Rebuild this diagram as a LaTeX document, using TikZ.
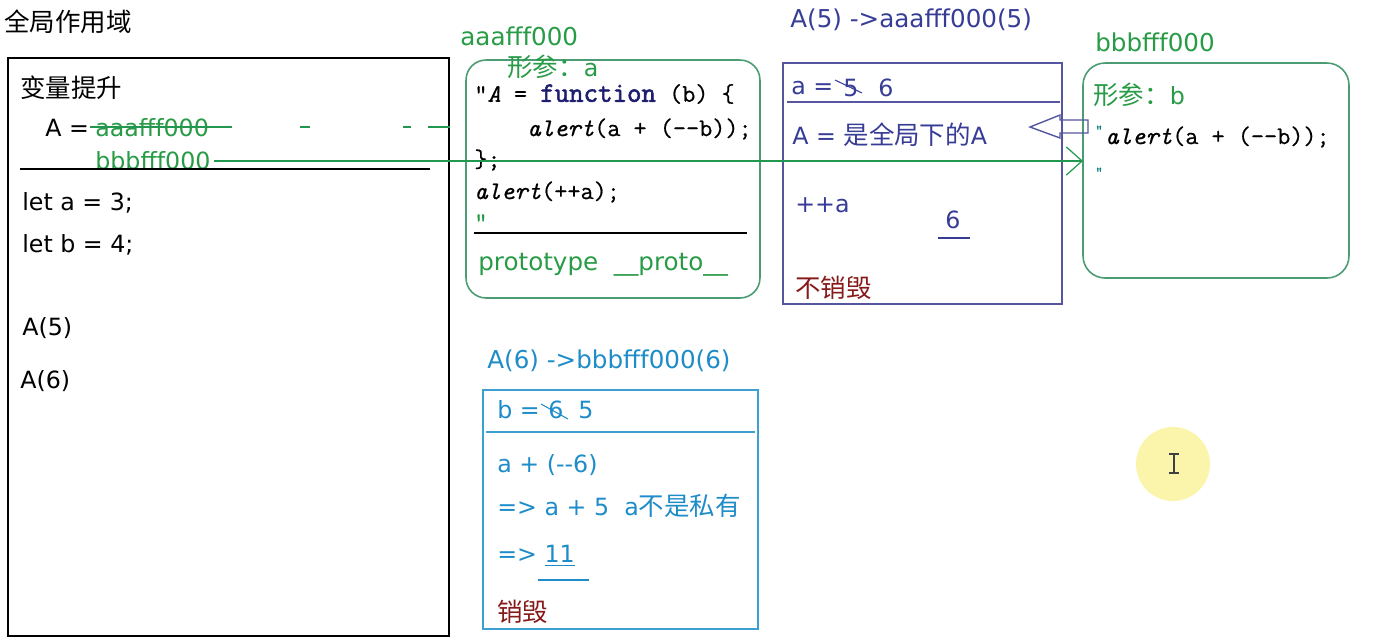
\documentclass[tikz,border=0pt]{standalone}
\usepackage{fontspec}
\setmainfont{DejaVu Sans}
\newfontfamily\cjk{Noto Sans CJK SC}
\newfontfamily\codefont{Latin Modern Mono}[FakeBold=0.6]
\newfontfamily\codebold{Latin Modern Mono}[FakeBold=2]
\usetikzlibrary{positioning,calc,arrows.meta}

\definecolor{jsgreen}{RGB}{40,155,70}
\definecolor{boxgreen}{RGB}{75,155,115}
\definecolor{navyblue}{RGB}{55,60,150}
\definecolor{boxnavy}{RGB}{85,85,160}
\definecolor{skyblue}{RGB}{30,140,200}
\definecolor{boxsky}{RGB}{60,160,210}
\definecolor{darkred}{RGB}{135,25,25}
\definecolor{keyword}{RGB}{30,30,110}
\definecolor{hilite}{RGB}{250,245,170}

\newcommand{\txtsize}[1]{\fontsize{#1}{#1}\selectfont}
\newcommand{\zh}[1]{{\cjk\txtsize{14.5}#1}}

\begin{document}
\begin{tikzpicture}[x=0.02cm, y=-0.02cm,
    lbl/.style={anchor=west, inner sep=0pt, font=\txtsize{13.5}},
    title/.style={lbl, font=\txtsize{14}},
    code/.style={anchor=west, inner sep=0pt, font=\codefont\txtsize{14.5}},
    frame/.style={draw, inner sep=0pt, outer sep=0pt, line width=0.9pt},
    greenline/.style={draw=jsgreen!85!teal, line width=0.7pt},
    crossout/.style={line width=0.6pt}]

    \useasboundingbox (0,0) rectangle (1386,640);

    % global scope
    \node[lbl] (gtitle) at (4,22) {\zh{全局作用域}};
    \node[frame, minimum width=8.82cm, minimum height=11.56cm] (gbox) at (228.5,347) {};
    \node[lbl] (hoist) at (20,88) {\zh{变量提升}};
    \node[lbl] (aeq) at (45,128) {A =};
    \node[lbl, text=jsgreen] (aaaref) at (95,128) {aaafff000};
    \node[lbl, text=jsgreen] (bbbref) at (95,161) {bbbfff000};
    \draw[black, line width=0.9pt] (20,169) -- (430,169);
    \node[lbl] (leta) at (22,203) {let a = 3;};
    \node[lbl] (letb) at (22,245) {let b = 4;};
    \node[lbl] (callfive) at (22,328) {A(5)};
    \node[lbl] (callsix) at (20,381) {A(6)};

    % old pointer A -> aaafff000 (struck out)
    \draw[greenline] ($(aaaref.west)+(-5,-1)$) -- (232,127);
    \foreach \xa/\xb in {300/310, 403/411, 428/450}
        \draw[greenline] (\xa,127) -- (\xb,127);

    % heap aaafff000
    \node[title, text=jsgreen] (aaatitle) at (460,36) {aaafff000};
    \node[frame, draw=boxgreen, rounded corners=0.4cm, minimum width=5.88cm, minimum height=4.76cm] (aaabox) at (613,179) {};
    \node[lbl, text=jsgreen] (parma) at (507,67) {\zh{形参：}a};
    \node[code] (codeA) at (474,94) {"\textit{A} = {\color{keyword}\codebold\txtsize{16}function} (b) \{};
    \node[code] (codeB) at (527,129) {\textit{alert}(a + (-{}-b));};
    \node[code] (codeC) at (474,160) {\};};
    \node[code] (codeD) at (474,192) {\textit{alert}(++a);};
    \node[code, text=jsgreen] (codeE) at (474,222) {"};
    \draw[line width=0.6pt] (474,233) -- (747,233);
    \node[title, text=jsgreen] (proto) at (478,265) {prototype\ \ \_\_proto\_\_};

    % call A(5)
    \node[title, text=navyblue] (fivetitle) at (790,20) {A(5) ->aaafff000(5)};
    \node[frame, draw=boxnavy, minimum width=5.58cm, minimum height=4.82cm] (fivebox) at (922.5,183.5) {};
    \draw[boxnavy, line width=0.8pt] (787,102) -- (1060,102);
    \node[lbl, text=navyblue] (avar) at (791,88) {a =};
    \node[lbl, text=navyblue] (aold) at (843,88) {5};
    \draw[navyblue, crossout] ($(aold.west)+(-8,-8)$) -- ($(aold.west)+(19,5)$);
    \node[lbl, text=navyblue] (anew) at (878,88) {6};
    \node[lbl, text=navyblue] (aglobal) at (792,135) {A\ =\ \zh{是全局下的}A};
    \node[lbl, text=navyblue] (incr) at (795,205) {++a};
    \node[lbl, text=navyblue] (sixres) at (945,220) {6};
    \draw[navyblue, line width=0.8pt] (938,238) -- (970,238);
    \node[lbl, text=darkred] (keepA) at (795,288) {\zh{不销毁}};

    % heap bbbfff000
    \node[title, text=jsgreen] (bbbtitle) at (1095,42) {bbbfff000};
    \node[frame, draw=boxgreen, rounded corners=0.44cm, minimum width=5.32cm, minimum height=4.3cm] (bbbbox) at (1216,170.5) {};
    \node[lbl, text=jsgreen] (parmb) at (1093,95) {\zh{形参：}b};
    \node[code, font=\codefont\txtsize{8}, text=teal] (quoteB) at (1095,130) {"};
    \node[code] (codeF) at (1105,137) {\textit{alert}(a + (-{}-b));};
    \node[code, font=\codefont\txtsize{8}, text=teal] (quoteC) at (1095,172) {"};

    % new pointer A -> bbbfff000
    \draw[greenline, -{Straight Barb[length=9pt, width=16pt]}] ($(bbbref.east)+(3,0)$) -- (bbbref.east -| bbbbox.west);

    % scope chain arrow
    \coordinate (tip) at (1030,127);
    \draw[boxnavy, line width=0.8pt] (tip) -- ++(30,-12) -- ++(0,5) -- ++(28,0) -- ++(0,13)
        -- ++(-28,0) -- ++(0,5) -- cycle;

    % call A(6)
    \node[title, text=skyblue] (sixtitle) at (487,361) {A(6) ->bbbfff000(6)};
    \node[frame, draw=boxsky, minimum width=5.5cm, minimum height=4.78cm] (sixbox) at (620.5,509.5) {};
    \draw[boxsky, line width=0.8pt] (486,432) -- (755,432);
    \node[lbl, text=skyblue] (bvar) at (497,410) {b =};
    \node[lbl, text=skyblue] (bold) at (548,410) {6};
    \draw[skyblue, crossout] ($(bold.west)+(-7,-6)$) -- ($(bold.west)+(20,9)$);
    \node[lbl, text=skyblue] (bnew) at (578,410) {5};
    \node[lbl, text=skyblue] (stepone) at (497,465) {a + (-{}-6)};
    \node[lbl, text=skyblue] (steptwo) at (497,506) {=> a + 5\ \ a\zh{不是私有}};
    \node[lbl, text=skyblue] (stepthree) at (497,556) {=> \underline{11}};
    \draw[skyblue, line width=0.8pt] (538,580) -- (589,580);
    \node[lbl, text=darkred] (dropB) at (497,612) {\zh{销毁}};

    % cursor highlight
    \node[circle, fill=hilite, minimum size=1.48cm, inner sep=0pt] (cursor) at (1173,464) {};
    \draw[black!75, line width=0.9pt] (1174,454) -- (1174,473)
        (1169,454) -- (1179,454) (1169,473) -- (1179,473);
\end{tikzpicture}
\end{document}
